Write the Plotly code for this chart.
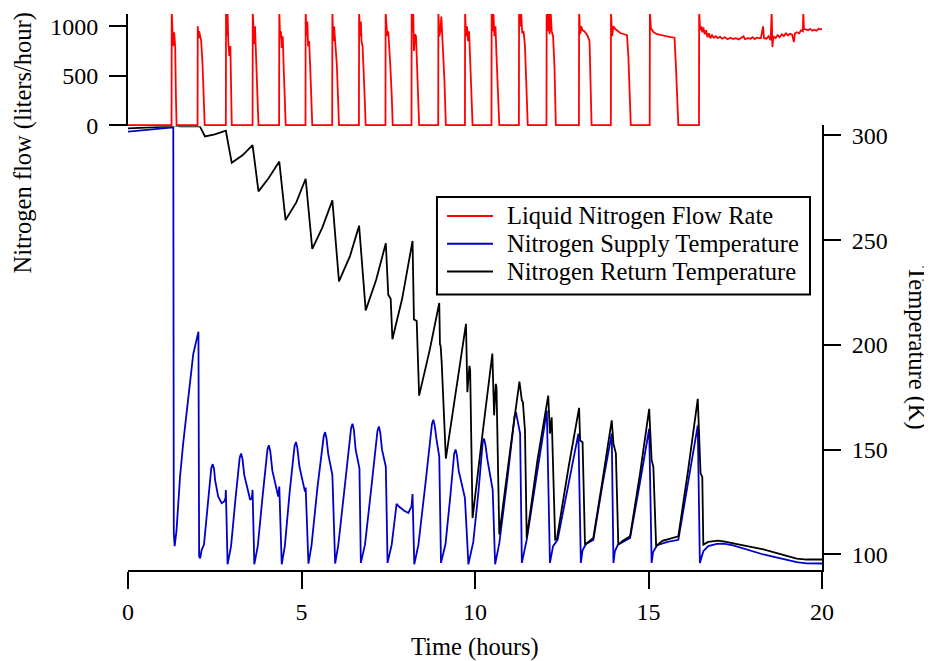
import plotly.graph_objects as go

# ---------------- data ----------------
flow_time = [
    0.0, 1.255, 1.26, 1.28, 1.30, 1.33, 1.36, 1.38, 1.40,
    2.005, 2.01, 2.03, 2.05, 2.08, 2.11, 2.15, 2.18, 2.21,
    2.82, 2.825, 2.85, 2.87, 2.89, 2.92, 2.95, 2.97, 2.99,
    3.59, 3.595, 3.62, 3.64, 3.66, 3.69, 3.72, 3.74, 3.76,
    4.355, 4.36, 4.385, 4.41, 4.43, 4.46, 4.49, 4.52, 4.545,
    5.115, 5.12, 5.145, 5.17, 5.19, 5.22, 5.25, 5.28, 5.31,
    5.885, 5.89, 5.915, 5.94, 5.96, 5.99, 6.02, 6.05, 6.08,
    6.655, 6.66, 6.685, 6.71, 6.73, 6.76, 6.79, 6.82, 6.85,
    7.42, 7.425, 7.45, 7.48, 7.50, 7.53, 7.56, 7.60, 7.63,
    8.17, 8.175, 8.20, 8.22, 8.24, 8.27, 8.30, 8.33, 8.36, 8.39,
    8.94, 8.945, 8.97, 9.00, 9.03, 9.06, 9.09, 9.12, 9.16,
    9.71, 9.715, 9.74, 9.77, 9.80, 9.83, 9.86, 9.90, 9.93,
    10.475, 10.48, 10.51, 10.53, 10.56, 10.59, 10.62, 10.66, 10.70,
    11.265, 11.27, 11.30, 11.33, 11.36, 11.40, 11.44, 11.48, 11.52,
    12.06, 12.065, 12.09, 12.12, 12.15, 12.18, 12.21, 12.25, 12.29, 12.33,
    12.995, 13.0, 13.03, 13.06, 13.10, 13.15, 13.20, 13.25, 13.30, 13.33, 13.36,
    13.915, 13.92, 13.95, 13.99, 14.05, 14.12, 14.20, 14.30, 14.38, 14.42, 14.46, 14.49,
    15.035, 15.04, 15.07, 15.10, 15.15, 15.25, 15.35, 15.50, 15.65, 15.75, 15.79, 15.83, 15.86,
    16.455, 16.46, 16.49, 16.52, 16.55, 16.58, 16.62, 16.66, 16.70, 16.74, 16.78, 16.83,
    16.88, 16.94, 17.00, 17.06, 17.12, 17.20, 17.28, 17.36, 17.44, 17.52, 17.60, 17.68,
    17.74, 17.78, 17.86, 17.94, 18.00, 18.06, 18.12, 18.18, 18.24, 18.30, 18.33, 18.40,
    18.46, 18.52, 18.55, 18.57, 18.60, 18.66, 18.72, 18.78, 18.84, 18.90, 18.96, 19.02,
    19.08, 19.14, 19.19, 19.22, 19.28, 19.34, 19.40, 19.45, 19.46, 19.48, 19.54, 19.60,
    19.66, 19.72, 19.78, 19.84, 19.90, 19.96, 20.0,
]
flow_rate = [
    0, 0, 1150, 960, 800, 940, 800, 300, 0,
    0, 1000, 880, 950, 900, 850, 600, 250, 0,
    0, 1150, 900, 1150, 850, 700, 800, 450, 0,
    0, 1150, 950, 820, 1000, 700, 500, 250, 0,
    0, 1150, 880, 950, 780, 900, 550, 250, 0,
    0, 1150, 900, 1050, 800, 850, 600, 300, 0,
    0, 1150, 850, 1000, 900, 750, 600, 300, 0,
    0, 1150, 900, 1050, 850, 800, 550, 300, 0,
    0, 1150, 1000, 900, 950, 700, 600, 300, 0,
    0, 1150, 950, 1150, 750, 920, 900, 600, 300, 0,
    0, 1150, 900, 950, 1100, 900, 650, 450, 0,
    0, 1150, 900, 1000, 850, 950, 650, 350, 0,
    0, 1150, 950, 1150, 900, 1000, 700, 300, 0,
    0, 1150, 1000, 1150, 930, 950, 800, 400, 0,
    0, 1150, 950, 1150, 920, 1150, 950, 900, 600, 0,
    0, 1150, 920, 1000, 960, 950, 930, 900, 850, 500, 0,
    0, 1150, 900, 1000, 970, 950, 930, 920, 910, 700, 300, 0,
    0, 1150, 980, 960, 940, 920, 910, 900, 890, 885, 600, 150, 0,
    0, 1150, 960, 1000, 940, 990, 920, 960, 890, 930, 880, 910,
    885, 900, 880, 895, 875, 890, 870, 885, 872, 880, 868, 885,
    900, 870, 880, 875, 890, 870, 885, 880, 880, 1000, 880, 875,
    900, 860, 1150, 790, 900, 880, 910, 890, 920, 900, 930, 910,
    925, 915, 840, 930, 940, 930, 960, 950, 1150, 975, 970, 960,
    975, 955, 965, 955, 975, 970, 975,
]

supply_time = [
    0.0, 0.5, 1.0, 1.305, 1.32, 1.345, 1.40, 1.50, 1.59, 1.69, 1.79, 1.88, 2.03,
    2.05, 2.08, 2.12, 2.19, 2.29, 2.36, 2.40, 2.44, 2.48, 2.51, 2.60, 2.70, 2.77, 2.81, 2.82,
    2.87, 2.97, 3.10, 3.22, 3.26, 3.30, 3.35, 3.52, 3.57, 3.59,
    3.64, 3.74, 3.88, 4.02, 4.06, 4.10, 4.16, 4.33, 4.36,
    4.43, 4.52, 4.66, 4.80, 4.84, 4.88, 4.94, 5.10, 5.12,
    5.20, 5.29, 5.46, 5.64, 5.68, 5.72, 5.77, 5.89,
    5.97, 6.06, 6.25, 6.43, 6.47, 6.51, 6.56, 6.67,
    6.71, 6.83, 7.02, 7.19, 7.23, 7.27, 7.32, 7.43,
    7.48, 7.60, 7.74, 7.80, 7.95, 8.08, 8.17, 8.20,
    8.25, 8.37, 8.58, 8.76, 8.80, 8.84, 8.89, 8.97,
    9.02, 9.15, 9.29, 9.40, 9.44, 9.48, 9.53, 9.71,
    9.81, 9.95, 10.10, 10.22, 10.26, 10.30, 10.36, 10.51,
    10.58, 10.70, 10.94, 11.14, 11.18, 11.24, 11.30,
    11.35, 11.49, 11.78, 12.07,
    12.16, 12.25, 12.38, 12.68, 12.98,
    13.05, 13.10, 13.20, 13.41, 13.67, 13.94,
    13.99, 14.03, 14.12, 14.30, 14.47, 14.75, 15.02,
    15.09, 15.13, 15.25, 15.55, 15.86, 16.14, 16.42,
    16.48, 16.58, 16.72, 16.97, 17.16, 17.44, 18.31, 19.27, 19.56, 20.0,
]
supply_temp = [
    301.8, 302.6, 303.3, 303.8, 110.0, 104.0, 111.9, 137.2, 153.0, 168.7, 184.5, 195.6, 206.3,
    99.0, 98.2, 102.0, 104.7, 122.9, 137.0, 141.3, 143.1, 140.8, 135.5, 127.6, 124.5, 125.3, 126.9, 130.8,
    95.3, 104.0, 127.0, 146.3, 148.2, 145.5, 138.0, 126.1, 127.0, 130.8,
    95.3, 104.0, 128.0, 150.2, 152.1, 149.3, 140.0, 127.6, 132.4,
    95.3, 104.0, 130.0, 151.8, 153.7, 150.9, 142.0, 130.0, 132.0,
    95.6, 104.5, 132.0, 156.4, 158.4, 155.5, 148.0, 137.9,
    95.7, 104.5, 133.0, 160.4, 162.4, 159.5, 150.0, 141.1,
    96.0, 104.7, 133.0, 159.1, 161.1, 158.2, 150.0, 141.9,
    96.0, 104.7, 124.2, 123.0, 121.0, 119.8, 123.0, 128.8,
    95.3, 104.7, 135.0, 162.3, 164.3, 161.4, 155.0, 146.6,
    96.0, 105.0, 128.0, 148.1, 150.1, 147.2, 140.0, 126.9,
    95.3, 106.0, 130.0, 153.3, 155.3, 152.4, 145.0, 130.8,
    95.3, 105.3, 137.0, 166.0, 167.9, 163.0, 157.7,
    96.0, 107.0, 138.0, 168.7,
    96.0, 104.0, 107.0, 132.0, 157.7,
    96.0, 102.0, 105.0, 107.0, 133.0, 157.7,
    96.0, 101.5, 104.7, 106.5, 107.9, 134.0, 160.0,
    96.0, 101.0, 104.5, 106.0, 107.0, 134.0, 161.6,
    96.0, 101.6, 104.0, 105.1, 105.2, 104.3, 100.0, 96.4, 95.8, 95.7,
]

return_time = [
    0.0, 0.6, 1.29, 1.32, 1.5, 2.07,
    2.22, 2.50, 2.82,
    2.99, 3.30, 3.59,
    3.76, 4.05, 4.36,
    4.54, 4.85, 5.12,
    5.31, 5.60, 5.89,
    6.08, 6.40, 6.66,
    6.85, 7.15, 7.43, 7.50, 7.57,
    7.62, 7.90, 8.20, 8.24, 8.32,
    8.39, 8.70, 8.97, 8.99, 9.01, 9.04,
    9.16, 9.45, 9.74, 9.78, 9.84, 9.86,
    9.93, 10.22, 10.50, 10.55, 10.60, 10.62,
    10.70, 11.00, 11.28, 11.35, 11.38, 11.44,
    11.49, 11.80, 12.11, 12.16, 12.21,
    12.31, 12.36, 12.70, 13.00, 13.03, 13.10,
    13.17, 13.41, 13.68, 13.94, 13.99, 14.06,
    14.13, 14.25, 14.47, 14.75, 15.02, 15.09, 15.14,
    15.22, 15.40, 15.86, 16.14, 16.42, 16.50, 16.55,
    16.58, 16.72, 17.00, 17.16, 18.31, 19.27, 19.56, 20.0,
]
return_temp = [
    303.3, 303.8, 304.3, 304.8, 304.3, 304.3,
    299.5, 300.5, 302.2,
    286.9, 290.5, 295.4,
    273.3, 279.5, 287.5,
    259.6, 268.0, 279.3,
    245.8, 256.0, 269.0,
    230.3, 242.5, 256.9,
    216.5, 231.0, 248.5, 224.0, 222.0,
    202.7, 222.0, 249.6, 212.2, 211.4,
    175.8, 198.0, 220.0, 200.3, 199.5, 191.7,
    145.8, 178.0, 210.1, 177.4, 190.0, 188.0,
    117.4, 158.0, 195.9, 166.4, 181.4, 179.8,
    109.5, 148.0, 182.5, 173.5, 172.7, 159.2,
    107.9, 145.0, 175.8, 157.7, 165.5,
    107.1, 107.5, 142.0, 170.0, 154.4, 153.6,
    104.7, 107.9, 136.0, 164.0, 152.9, 148.2,
    104.7, 106.5, 108.7, 138.0, 169.5, 145.0, 141.8,
    104.0, 106.5, 108.7, 140.0, 174.3, 138.7, 137.0,
    104.7, 106.0, 106.6, 106.3, 102.4, 98.0, 97.6, 97.6,
]

series_names = ["Liquid Nitrogen Flow Rate", "Nitrogen Supply Temperature",
                "Nitrogen Return Temperature"]
series_colors = ["#ff0000", "#0000cc", "#000000"]

time_ticks = [0, 5, 10, 15, 20]
temp_ticks = [100, 150, 200, 250, 300]
flow_ticks = [0, 500, 1000]

assert len(flow_time) == len(flow_rate)
assert len(supply_time) == len(supply_temp)
assert len(return_time) == len(return_temp)

FONT = "Liberation Serif"
FS = 24

fig = go.Figure()
fig.add_trace(go.Scatter(x=flow_time, y=flow_rate, mode="lines",
                         name=series_names[0],
                         line=dict(color=series_colors[0], width=1.8),
                         xaxis="x2", yaxis="y2"))
fig.add_trace(go.Scatter(x=supply_time, y=supply_temp, mode="lines",
                         name=series_names[1],
                         line=dict(color=series_colors[1], width=1.8),
                         xaxis="x", yaxis="y"))
fig.add_trace(go.Scatter(x=return_time, y=return_temp, mode="lines",
                         name=series_names[2],
                         line=dict(color=series_colors[2], width=1.8),
                         xaxis="x", yaxis="y"))

axis_common = dict(showline=True, linecolor="black", linewidth=2,
                   ticks="outside", ticklen=17, tickwidth=2, tickcolor="black",
                   showgrid=False, zeroline=False,
                   tickfont=dict(family=FONT, size=FS, color="black"))

# legend box (drawn in paper coordinates to match the reference spacing)
LEG_X0, LEG_X1, LEG_Y0, LEG_Y1 = 0.4452, 0.9827, 0.4955, 0.6708
LEG_LINE_X0, LEG_LINE_X1, LEG_TEXT_X = 0.4597, 0.5259, 0.5432
LEG_ROWS = [0.6369, 0.5868, 0.5367]

shapes = [dict(type="rect", xref="paper", yref="paper",
               x0=LEG_X0, x1=LEG_X1, y0=LEG_Y0, y1=LEG_Y1,
               line=dict(color="black", width=2), fillcolor="white", layer="above")]
annotations = []
for name, color, ry in zip(series_names, series_colors, LEG_ROWS):
    shapes.append(dict(type="line", xref="paper", yref="paper",
                       x0=LEG_LINE_X0, x1=LEG_LINE_X1, y0=ry, y1=ry,
                       line=dict(color=color, width=2), layer="above"))
    annotations.append(dict(text=name, xref="paper", yref="paper",
                            x=LEG_TEXT_X, y=ry, xanchor="left", yanchor="middle",
                            showarrow=False,
                            font=dict(family=FONT, size=24.5, color="black")))

annotations += [
    dict(text="Time (hours)", xref="paper", yref="paper", x=0.5, y=-0.1377,
         xanchor="center", yanchor="middle", showarrow=False,
         font=dict(family=FONT, size=24.5)),
    dict(text="Nitrogen flow (liters/hour)", xref="paper", yref="paper",
         x=-0.1513, y=0.769, xanchor="center", yanchor="middle",
         textangle=-90, showarrow=False, font=dict(family=FONT, size=24.5)),
    dict(text="Temperature (K)", xref="paper", yref="paper",
         x=1.137, y=0.399, xanchor="center", yanchor="middle",
         textangle=90, showarrow=False, font=dict(family=FONT, size=24.5)),
]

# the page body adds an 8 px offset, so the figure is 8 px smaller on each side
fig.update_layout(
    width=924, height=653,
    margin=dict(l=120, r=110, t=3, b=91),
    paper_bgcolor="white", plot_bgcolor="white",
    font=dict(family=FONT, size=FS, color="black"),
    showlegend=False,
    xaxis=dict(domain=[0, 1], range=[0, 20], anchor="y",
               tickvals=time_ticks, ticklabelstandoff=2, **axis_common),
    yaxis=dict(domain=[0, 0.7996], range=[92.6, 304.75], anchor="x", side="right",
               tickvals=temp_ticks, ticklabelstandoff=6, **axis_common),
    xaxis2=dict(domain=[0, 1], range=[0, 20], anchor="y2", visible=False),
    yaxis2=dict(domain=[0.798, 1], range=[-12, 1125], anchor="x2", side="left",
                tickvals=flow_ticks, ticklabelstandoff=6, **axis_common),
    shapes=shapes,
    annotations=annotations,
)

fig.write_html("out.html")
